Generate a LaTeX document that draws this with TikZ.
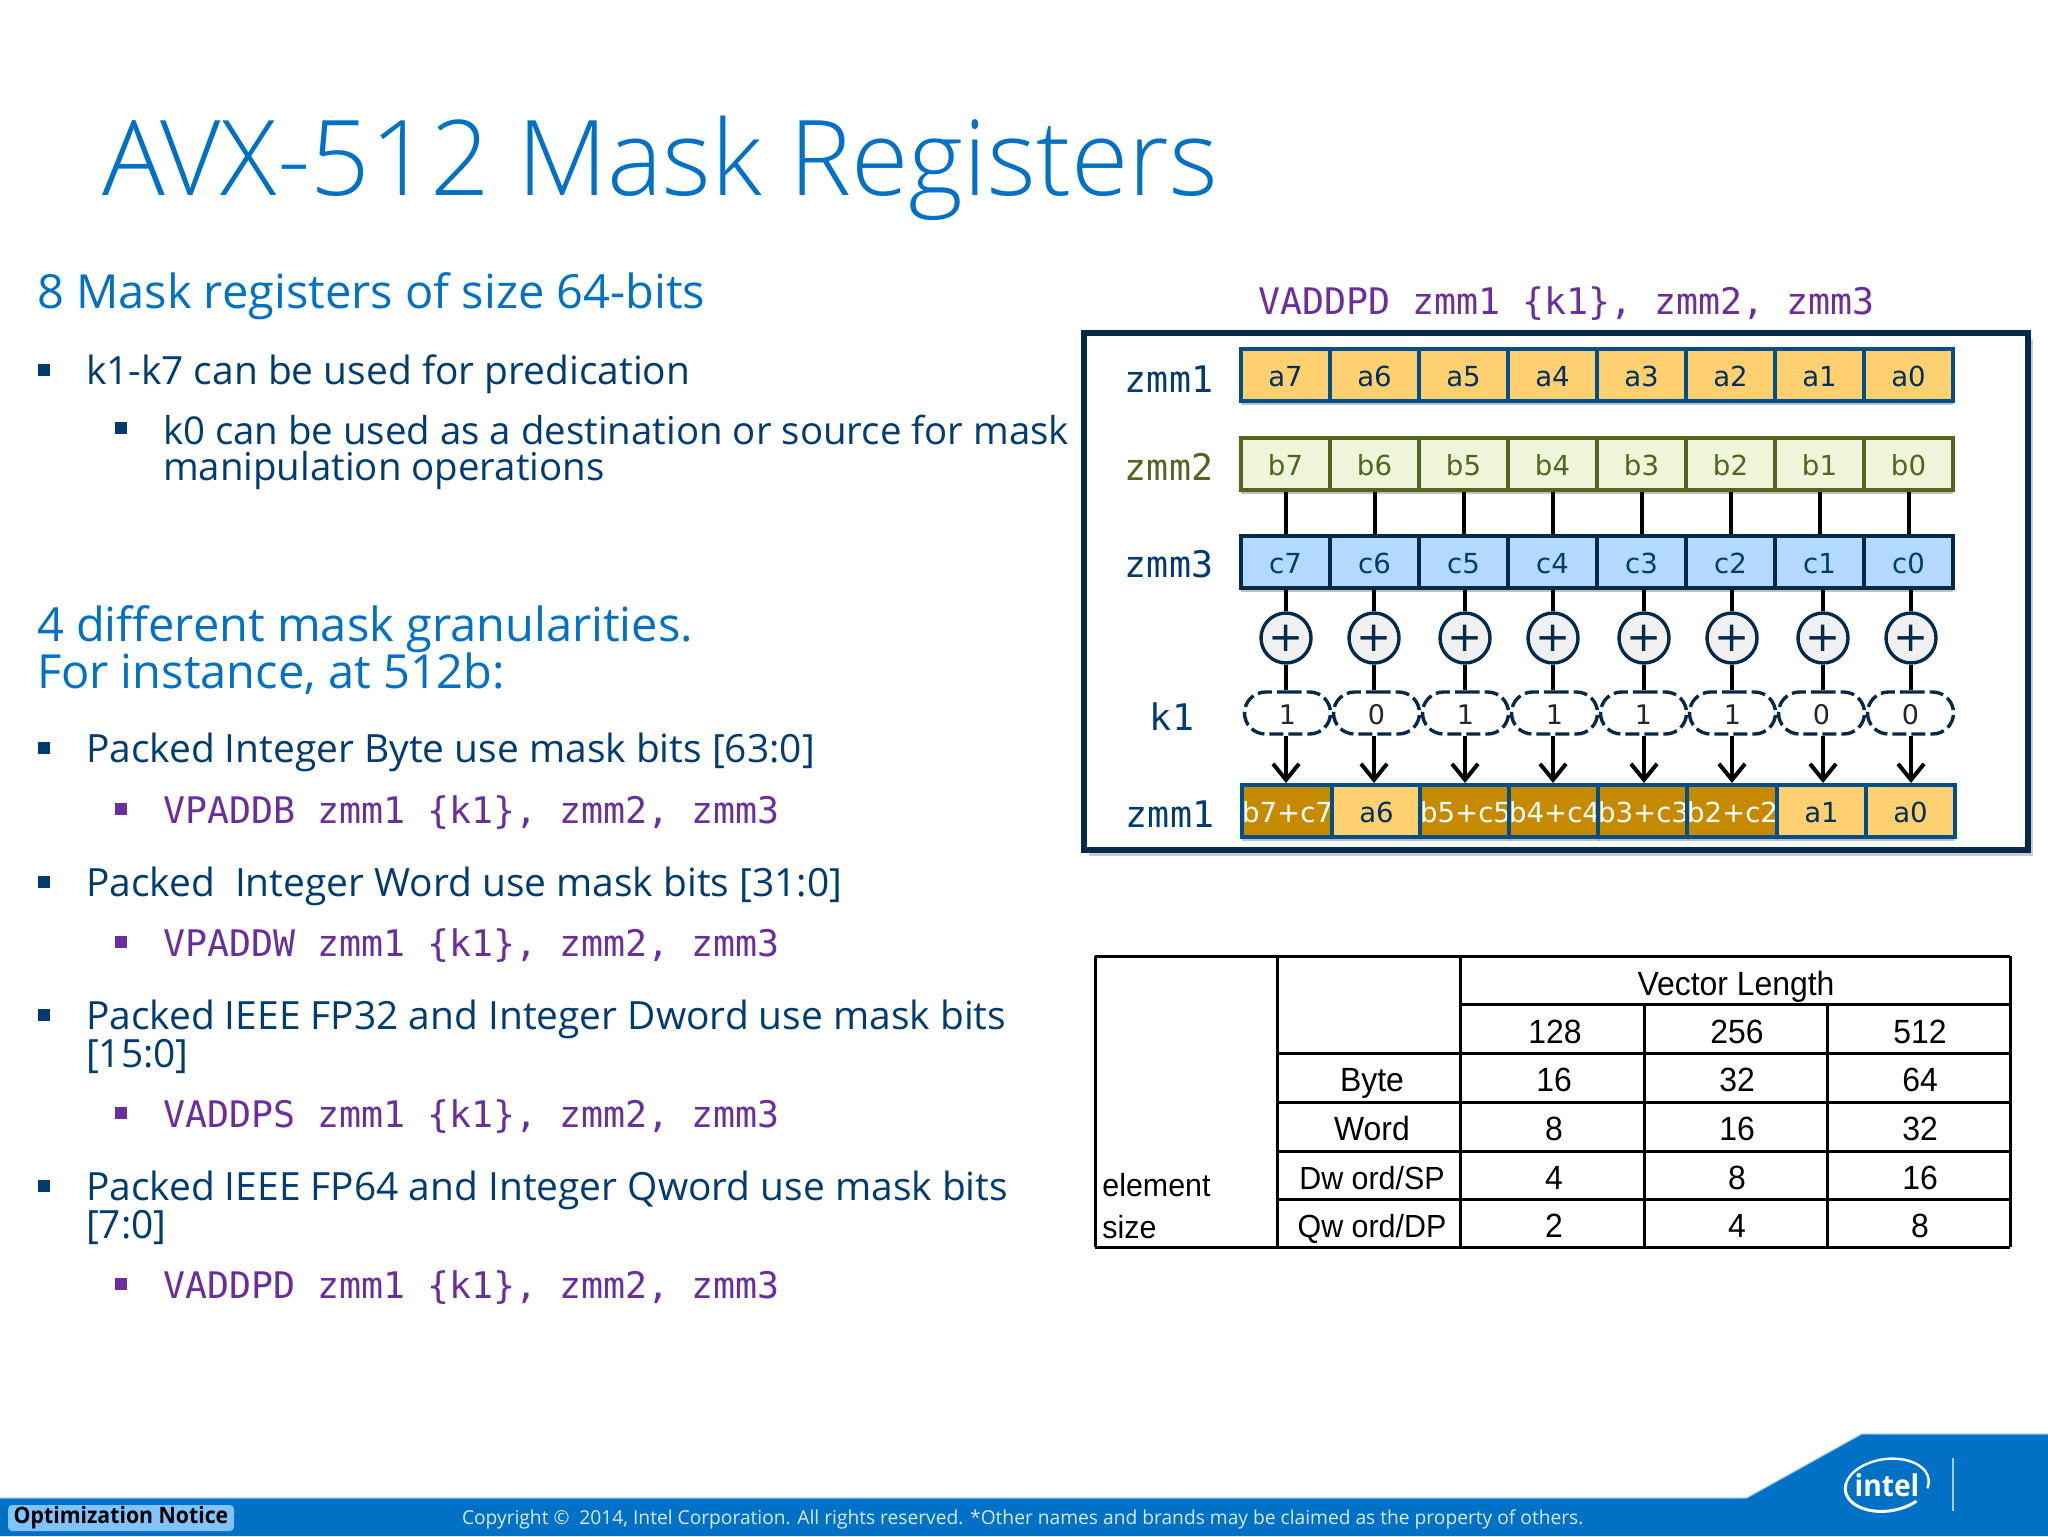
\documentclass[tikz,border=0pt]{standalone}
\usepackage{fontspec}
\setmainfont{Open Sans}
\setmonofont{DejaVu Sans Mono}
\newfontfamily\titlefont{Open Sans Light}
\newfontfamily\cellfont{DejaVu Sans}
\newfontfamily\tablefont[FakeStretch=0.95]{Liberation Sans}
\newfontfamily\noticefont[FakeStretch=0.94]{Open Sans}
\usetikzlibrary{arrows.meta,shadows,shapes.misc}
\definecolor{introblue}{HTML}{0071C5}
\definecolor{darknavy}{HTML}{003C71}
\definecolor{codepurple}{HTML}{6B2E9E}
\definecolor{olive}{HTML}{556420}
\definecolor{framenavy}{HTML}{04294B}
\definecolor{afill}{HTML}{FFD06F}
\definecolor{bfill}{HTML}{EEF5D9}
\definecolor{cfill}{HTML}{B3D9FF}
\definecolor{dfill}{HTML}{C68A00}
\definecolor{noticeblue}{HTML}{7FC4FF}
\tikzset{
  plain/.style={anchor=west,inner sep=0pt,outer sep=0pt},
  headtext/.style={plain,text=introblue,font=\fontsize{23.5}{27}\selectfont},
  bodytext/.style={plain,text=darknavy,font=\fontsize{19.45}{24}\selectfont},
  subtext/.style={plain,text=darknavy,font=\fontsize{19.2}{24}\selectfont},
  codetext/.style={plain,text=codepurple,font=\ttfamily\fontsize{18.3}{22}\selectfont},
  reglabel/.style={inner sep=0pt,text=darknavy,font=\ttfamily\fontsize{18.3}{20}\selectfont},
  cell/.style={rectangle,inner sep=0pt,minimum width=44.5pt,minimum height=26pt,line width=2pt,text height=11.5pt,text depth=0pt,
    font=\cellfont\fontsize{13.8}{16}\selectfont,drop shadow={shadow xshift=0pt,shadow yshift=-2pt,fill=black!45,opacity=.55}},
  acell/.style={cell,draw=introblue!70!black,fill=afill,text=darknavy!80!black},
  bcell/.style={cell,draw=olive,fill=bfill,text=olive},
  ccell/.style={cell,draw=framenavy,fill=cfill,text=darknavy},
  rcell/.style={acell,drop shadow={opacity=0}},
  dcell/.style={rcell,fill=dfill,text=white},
  plusnode/.style={circle,draw=framenavy,fill=black!6,line width=1.7pt,minimum size=25pt,inner sep=0pt,
    font=\cellfont\fontsize{21}{21}\selectfont,text=framenavy},
  masknode/.style={rounded rectangle,draw=framenavy,dash pattern=on 7pt off 2.5pt,fill=white,line width=1.7pt,minimum width=43pt,
    minimum height=21pt,inner sep=0pt,text height=11pt,text depth=0pt,font=\cellfont\fontsize{13.5}{15}\selectfont,text=black!85},
  wire/.style={line width=2pt,black},
  tabtext/.style={inner sep=0pt,text height=12pt,text depth=0pt,font=\tablefont\fontsize{16.8}{18}\selectfont,text=black},
  tabsmall/.style={tabtext,font=\tablefont\fontsize{16}{18}\selectfont},
  tabline/.style={line width=1.5pt,black}
}
\begin{document}
\begin{tikzpicture}[x=.5pt,y=-.5pt]
\useasboundingbox (0,0) rectangle (2048,1536);
\fill[white] (0,0) rectangle (2048,1536);

\node[plain,text=introblue,font=\titlefont\fontsize{52.3}{60}\selectfont] (title) at (102,168) {AVX-512 Mask Registers};

\node[headtext] (headA) at (37,296) {8 Mask registers of size 64-bits};
\node[headtext] (headB) at (37,629) {4 different mask granularities.};
\node[headtext] (headC) at (37,674) {For instance, at 512b:};

\node[bodytext] (itemA) at (86,374) {k1-k7 can be used for predication};
\node[subtext] (itemAa) at (163,430) {k0 can be used as a destination or source for mask};
\node[subtext] (itemAb) at (163,471) {manipulation operations};
\node[bodytext] (itemB) at (86,752) {Packed Integer Byte use mask bits [63:0]};
\node[bodytext] (itemC) at (86,886) {Packed\ \ Integer Word use mask bits [31:0]};
\node[bodytext] (itemD) at (86,1019) {Packed IEEE FP32 and Integer Dword use mask bits};
\node[bodytext] (itemDb) at (86,1056) {[15:0]};
\node[bodytext] (itemE) at (86,1190) {Packed IEEE FP64 and Integer Qword use mask bits};
\node[bodytext] (itemEb) at (86,1227) {[7:0]};

\node[codetext] (codeB) at (163,813) {VPADDB zmm1 \{k1\}, zmm2, zmm3};
\node[codetext] (codeC) at (163,946) {VPADDW zmm1 \{k1\}, zmm2, zmm3};
\node[codetext] (codeD) at (163,1117) {VADDPS zmm1 \{k1\}, zmm2, zmm3};
\node[codetext] (codeE) at (163,1288) {VADDPD zmm1 \{k1\}, zmm2, zmm3};

\foreach \y in {370,748,882,1015,1186}{
	\fill[darknavy] (38,\y-6) rectangle ++(12,12);
}
\fill[darknavy] (115,422) rectangle ++(12,12);
\foreach \y in {809,942,1113,1284}{
	\fill[codepurple] (115,\y-6) rectangle ++(12,12);
}

\node[plain,text=codepurple,font=\ttfamily\fontsize{18.3}{22}\selectfont] (instr) at (1258,304) {VADDPD zmm1 \{k1\}, zmm2, zmm3};

\fill[black!40,opacity=.5] (1089,339) rectangle (2033,856);
\draw[framenavy,line width=3pt,fill=white] (1084,333) rectangle (2028,850);

\node[reglabel] (labA) at (1169,379) {zmm1};
\node[reglabel,text=olive] (labB) at (1169,467) {zmm2};
\node[reglabel] (labC) at (1169,564) {zmm3};
\node[reglabel] (labK) at (1172,717) {k1};
\node[reglabel] (labR) at (1170,814) {zmm1};

\foreach \i/\x/\s/\m/\r in {7/1285.5/1286/1/b7+c7,6/1374.5/1374/0/a6,5/1463.5/1465/1/b5+c5,4/1552.5/1553/1/b4+c4,3/1641.5/1644/1/b3+c3,2/1730.5/1732/1/b2+c2,1/1819.5/1823/0/a1,0/1908.5/1911/0/a0}{
	\node[acell] (a\i) at (\x,375) {a\i};
	\node[bcell] (b\i) at (\x,464) {b\i};
	\node[ccell] (c\i) at (\x,562) {c\i};
	\node[plusnode] (s\i) at (\s,638) {+};
	\node[masknode] (k\i) at (\x+2,713) {\m};
	\ifnum\m=1
		\node[dcell] (r\i) at (\x+2,811) {\r};
	\else
		\node[rcell] (r\i) at (\x+2,811) {\r};
	\fi
	\draw[wire] (b\i) -- (c\i);
	\draw[wire] (c\i.south -| s\i) -- (s\i);
	\draw[wire] (s\i) -- (k\i.north -| s\i);
	\draw[wire,-{Straight Barb[length=8pt,width=13pt]}] (k\i.south -| s\i) -- (r\i.north -| s\i);
}

\foreach \x in {1095,1277,1460,1644,1827,2010}{
	\draw[tabline] (\x,1004) -- (\x,1247);
}
\foreach \x in {1095,1277,1460,2010}{
	\draw[tabline] (\x,956) -- (\x,1004);
}
\draw[tabline] (1095,956) -- (2010,956);
\draw[tabline] (1460,1004) -- (2010,1004);
\foreach \y in {1053,1102,1151,1199}{
	\draw[tabline] (1277,\y) -- (2010,\y);
}
\draw[tabline] (1095,1247) -- (2010,1247);

\node[tabtext] (vlen) at (1736,983) {Vector Length};
\node[tabtext] (byte) at (1372,1079) {Byte};
\node[tabtext] (word) at (1372,1128) {Word};
\node[tabsmall] (dword) at (1372,1177) {Dw ord\slash SP};
\node[tabsmall] (qword) at (1372,1225) {Qw ord\slash DP};
\foreach \n/\y/\u/\v/\w in {byte/1079/16/32/64,word/1128/8/16/32,dword/1177/4/8/16,qword/1225/2/4/8}{
	\node[tabtext] (\n A) at (1554,\y) {\u};
	\node[tabtext] (\n B) at (1737,\y) {\v};
	\node[tabtext] (\n C) at (1920,\y) {\w};
}
\node[tabtext] (lenA) at (1555,1031) {128};
\node[tabtext] (lenB) at (1737,1031) {256};
\node[tabtext] (lenC) at (1920,1031) {512};
\node[tabsmall,anchor=west] (elem) at (1102,1184) {element};
\node[tabsmall,anchor=west] (esize) at (1102,1226) {size};

\fill[introblue] (0,1498) -- (1747,1498) -- (1862,1434) -- (2048,1434) -- (2048,1536) -- (0,1536) -- cycle;
\draw[introblue!50,line width=.5pt] (0,1498) -- (1747,1498) -- (1862,1434) -- (2048,1434);
\node[rounded corners=2pt,fill=noticeblue,minimum width=113pt,minimum height=13pt,inner sep=0pt,text=black,
  font=\noticefont\bfseries\fontsize{11.3}{13}\selectfont] (notice) at (121,1518) {Optimization Notice};
\node[plain,text=white!85!introblue,font=\fontsize{9.6}{12}\selectfont] (copy) at (462,1519) {Copyright \textcopyright\ \ 2014, Intel Corporation. All rights reserved. *Other names and brands may be claimed as the property of others.};

\coordinate (logo) at (1887,1485);
\node[inner sep=0pt,text=white,font=\noticefont\bfseries\fontsize{15}{17}\selectfont] (intel) at (logo) {intel};
\begin{scope}[shift={(logo)},rotate=8]
\draw[white,line width=1.2pt] (168:21pt and 13pt) arc[start angle=168,end angle=-20,x radius=21pt,y radius=13pt];
\draw[white,line width=1.5pt] (-50:21pt and 13pt) arc[start angle=-50,end angle=-195,x radius=21pt,y radius=13pt];
\end{scope}
\draw[white!65!introblue,line width=.7pt] (1953,1458) -- (1953,1511);
\end{tikzpicture}
\end{document}
